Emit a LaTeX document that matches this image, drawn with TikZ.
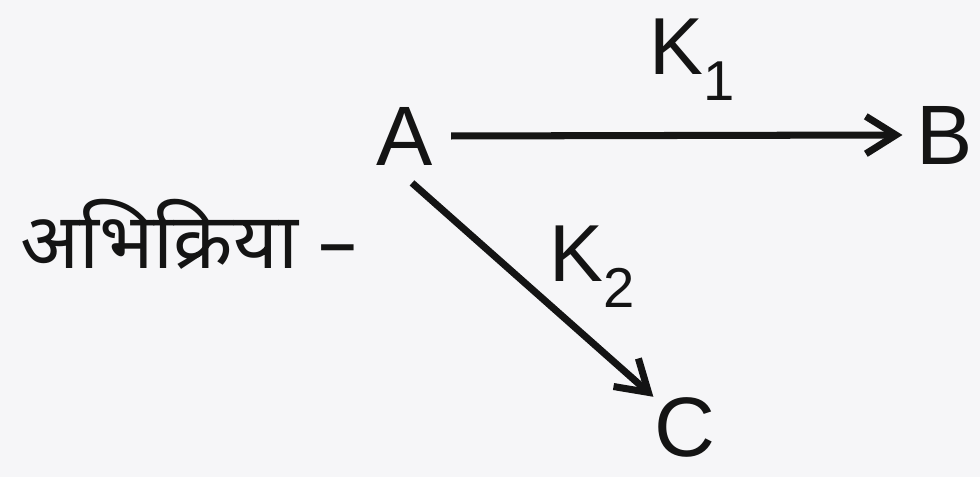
\documentclass[tikz,border=0pt]{standalone}
\usepackage{fontspec}
\setmainfont{Liberation Sans}
\newfontfamily\devfont[Script=Devanagari]{Noto Sans}
\definecolor{scanbg}{RGB}{246,246,248}
\definecolor{inktext}{RGB}{20,20,20}
\usetikzlibrary{arrows.meta,positioning}
\newcommand{\ksub}[1]{\raisebox{-0.32em}{\fontsize{32}{32}\selectfont #1}}

\begin{document}
\begin{tikzpicture}[x=1cm,y=1cm,
    letter/.style={inner sep=0pt,font=\fontsize{48}{50}\selectfont,text=inktext},
    rate/.style={inner sep=0pt,font=\fontsize{46}{48}\selectfont,text=inktext},
    route/.style={draw=inktext,line width=4pt,-{Straight Barb[length=6mm,width=7.5mm,line width=4pt]}}]
  % page
  \fill[scanbg] (0,0) rectangle (19.6,9.54);
  \useasboundingbox (0,0) rectangle (19.6,9.54);

  % species
  \node[letter] (A) at (8.1,6.82) {A};
  \node[letter] (B) at (18.9,6.84) {B};
  \node[letter] (C) at (13.7,1.0) {C};

  % rate constants
  \node[rate] (k1) at (13.85,8.35) {K\ksub{1}};
  \node[rate] (k2) at (11.85,4.2) {K\ksub{2}};

  % reaction label
  \node[inner sep=0pt,anchor=west,text=inktext,font=\fontsize{44}{46}\selectfont] (rxn) at (0.4,4.85) {\devfont अभिक्रिया –};

  % routes
  \draw[route] ([xshift=10pt]A.east) -- ([xshift=-8pt]B.west);
  \draw[route] ([xshift=4pt,yshift=-10pt]A.south) -- ([xshift=-18pt,yshift=0pt]C.north);
\end{tikzpicture}
\end{document}
